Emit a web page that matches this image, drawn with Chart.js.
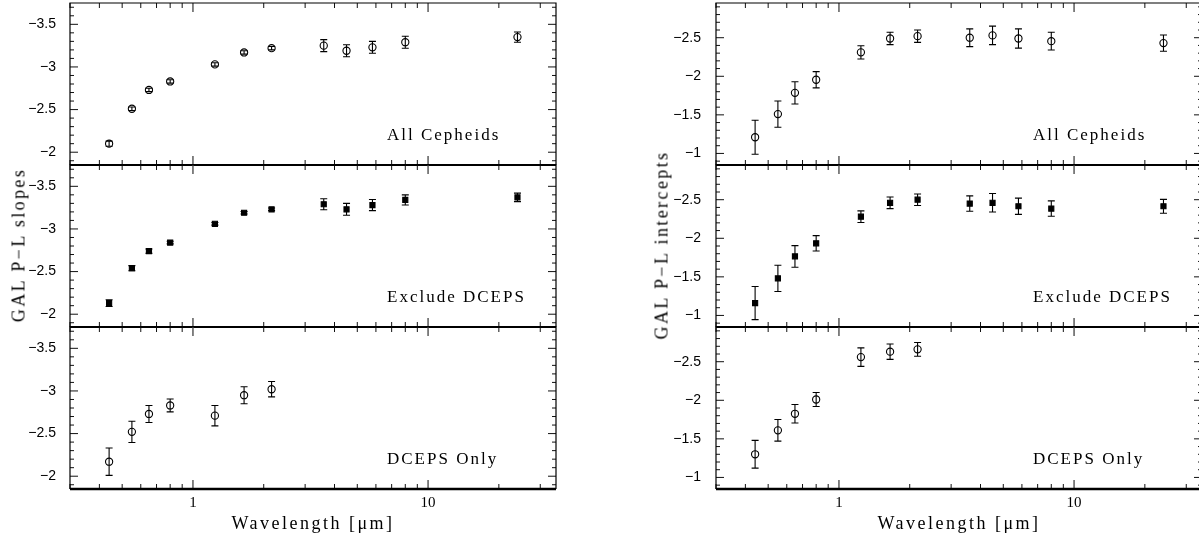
<!DOCTYPE html>
<html>
<head>
<meta charset="utf-8">
<script src="https://cdn.jsdelivr.net/npm/chart.js@4.4.1/dist/chart.umd.min.js"></script>
<style>
  body { margin: 0; background: #fff; overflow: hidden; }
  #wrap { position: relative; width: 1199px; height: 539px; overflow: hidden; }
  canvas { position: absolute; }
  .ytitle {
    position: absolute; font: 18px "Liberation Serif", serif; letter-spacing: 2.4px;
    white-space: nowrap; transform: translate(-50%, -50%) rotate(-90deg); color: #000;
  }
</style>
</head>
<body>
<div id="wrap">
  <canvas id="s1"></canvas><canvas id="s2"></canvas><canvas id="s3"></canvas>
  <canvas id="i1"></canvas><canvas id="i2"></canvas><canvas id="i3"></canvas>
  <div class="ytitle" style="left:19px;top:245px">GAL P−L slopes</div>
  <div class="ytitle" style="left:662px;top:245px">GAL P−L intercepts</div>
</div>
<script>
// wavelengths in micron (B V R I J H K, IRAC 3.6 4.5 5.8 8.0, MIPS 24)
const wavelengths = [0.44, 0.55, 0.65, 0.80, 1.24, 1.65, 2.16, 3.6, 4.5, 5.8, 8.0, 24];

const slopeAll      = [-2.10, -2.51, -2.73, -2.83, -3.03, -3.17, -3.22, -3.25, -3.19, -3.23, -3.29, -3.35];
const slopeAllErr   = [0.03, 0.02, 0.02, 0.02, 0.02, 0.02, 0.02, 0.07, 0.07, 0.07, 0.07, 0.06];
const slopeExcl     = [-2.13, -2.54, -2.74, -2.84, -3.06, -3.19, -3.23, -3.29, -3.23, -3.28, -3.34, -3.37];
const slopeExclErr  = [0.04, 0.03, 0.025, 0.015, 0.015, 0.015, 0.015, 0.065, 0.07, 0.065, 0.06, 0.05];
const slopeDceps    = [-2.17, -2.52, -2.73, -2.83, -2.71, -2.95, -3.02];
const slopeDcepsErr = [0.16, 0.125, 0.10, 0.075, 0.12, 0.10, 0.09];

const interceptAll      = [-1.21, -1.51, -1.785, -1.955, -2.31, -2.49, -2.52, -2.50, -2.53, -2.49, -2.455, -2.43];
const interceptAllErr   = [0.22, 0.17, 0.145, 0.105, 0.085, 0.08, 0.08, 0.115, 0.12, 0.125, 0.115, 0.105];
const interceptExcl     = [-1.16, -1.48, -1.765, -1.935, -2.28, -2.46, -2.50, -2.45, -2.46, -2.415, -2.385, -2.415];
const interceptExclErr  = [0.215, 0.17, 0.14, 0.10, 0.075, 0.075, 0.075, 0.10, 0.12, 0.105, 0.10, 0.09];
const interceptDceps    = [-1.30, -1.61, -1.825, -2.01, -2.56, -2.63, -2.66];
const interceptDcepsErr = [0.18, 0.14, 0.12, 0.09, 0.12, 0.10, 0.09];

const slopeTicks = [-3.5, -3, -2.5, -2];
const interceptTicks = [-2.5, -2, -1.5, -1];
const xTickLabels = [1, 10];
const panelLabels = ["All Cepheids", "Exclude DCEPS", "DCEPS Only"];
const xTitle = "Wavelength [μm]";

const SERIF = '"Liberation Serif", "Times New Roman", serif';
const SANS = '"Liberation Sans", Arial, sans-serif';

// draws frame, inward ticks on all 4 sides, error bars and the panel label
function panelDeco(cfg) {
  return {
    id: "panelDeco",
    beforeDatasetsDraw(chart) {
      const { ctx, chartArea: a, scales: { x, y } } = chart;
      ctx.save();
      ctx.beginPath();
      ctx.rect(a.left, a.top, a.right - a.left, a.bottom - a.top);
      ctx.clip();
      ctx.strokeStyle = "#000";
      ctx.lineWidth = 1.1;
      cfg.values.forEach((v, i) => {
        const px = x.getPixelForValue(wavelengths[i]);
        const y1 = y.getPixelForValue(v - cfg.errors[i]);
        const y2 = y.getPixelForValue(v + cfg.errors[i]);
        ctx.beginPath();
        ctx.moveTo(px, y1); ctx.lineTo(px, y2);
        ctx.moveTo(px - 3.5, y1); ctx.lineTo(px + 3.5, y1);
        ctx.moveTo(px - 3.5, y2); ctx.lineTo(px + 3.5, y2);
        ctx.stroke();
      });
      ctx.restore();
    },
    afterDraw(chart) {
      const { ctx, chartArea: a, scales: { x, y } } = chart;
      ctx.save();
      // x ticks (top and bottom, inward)
      for (let d = 0.1; d <= 10; d *= 10) {
        for (let k = 1; k <= 9; k++) {
          const v = d * k;
          if (v < x.min || v > x.max) continue;
          const px = x.getPixelForValue(v);
          const major = k === 1;
          const len = major ? 9 : 5;
          ctx.strokeStyle = major ? "#666" : "#111";
          ctx.lineWidth = major ? 1.6 : 1;
          ctx.beginPath();
          ctx.moveTo(px, a.top); ctx.lineTo(px, a.top + len);
          ctx.moveTo(px, a.bottom); ctx.lineTo(px, a.bottom - len);
          ctx.stroke();
        }
      }
      // y ticks (left and right, inward)
      ctx.strokeStyle = "#111";
      ctx.lineWidth = 1;
      const lo = Math.ceil(y.min * 10), hi = Math.floor(y.max * 10);
      for (let t = lo; t <= hi; t++) {
        const py = y.getPixelForValue(t / 10);
        const len = t % 5 === 0 ? 8 : 4;
        ctx.beginPath();
        ctx.moveTo(a.left, py); ctx.lineTo(a.left + len, py);
        ctx.moveTo(a.right, py); ctx.lineTo(a.right - len, py);
        ctx.stroke();
      }
      // frame
      ctx.strokeStyle = "#000";
      ctx.lineWidth = 1.2;
      ctx.beginPath();
      ctx.moveTo(a.left, a.bottom); ctx.lineTo(a.left, a.top); ctx.lineTo(a.right, a.top); ctx.lineTo(a.right, a.bottom);
      ctx.stroke();
      ctx.lineWidth = cfg.bottom ? 2.6 : 2;
      ctx.beginPath();
      ctx.moveTo(a.left, a.bottom); ctx.lineTo(a.right, a.bottom);
      ctx.stroke();
      // labels
      ctx.fillStyle = "#000";
      ctx.letterSpacing = "2px";
      ctx.font = "17px " + SERIF;
      ctx.textAlign = "left";
      ctx.textBaseline = "middle";
      ctx.fillText(cfg.label, a.left + 317, a.bottom - 29);
      if (cfg.bottom) {
        ctx.letterSpacing = "0px";
        ctx.font = "15px " + SERIF;
        ctx.textAlign = "center";
        xTickLabels.forEach(v => ctx.fillText(String(v), x.getPixelForValue(v), a.bottom + 14));
        ctx.letterSpacing = "2.5px";
        ctx.font = "18px " + SERIF;
        ctx.fillText(xTitle, (a.left + a.right) / 2, a.bottom + 35);
      }
      ctx.restore();
    }
  };
}

function makePanel(id, o) {
  const el = document.getElementById(id);
  el.width = o.w; el.height = o.h;
  el.style.left = o.left + "px"; el.style.top = o.top + "px";
  el.style.width = o.w + "px"; el.style.height = o.h + "px";
  const filled = o.marker === "square";
  new Chart(el, {
    type: "scatter",
    data: {
      datasets: [{
        data: o.values.map((v, i) => ({ x: wavelengths[i], y: v })),
        pointStyle: filled ? "rect" : "circle",
        pointRadius: 3.6,
        borderWidth: 1.1,
        borderColor: "#000",
        backgroundColor: filled ? "#000" : "rgba(0,0,0,0)"
      }]
    },
    options: {
      responsive: false,
      animation: false,
      events: [],
      layout: { autoPadding: false, padding: { top: 5, bottom: o.bottom ? 50 : 5, right: o.padRight, left: 0 } },
      plugins: { legend: { display: false }, tooltip: { enabled: false } },
      scales: {
        x: { type: "logarithmic", min: 0.316, max: 35, display: false },
        y: {
          min: o.ymin, max: o.ymax, reverse: true,
          grid: { display: false }, border: { display: false },
          afterBuildTicks: s => { s.ticks = o.ticks.map(v => ({ value: v })); },
          afterFit: s => { s.width = o.axisW; s.paddingTop = 0; s.paddingBottom = 0; },
          ticks: {
            autoSkip: false, padding: o.tickPad, color: "#000",
            font: { family: SANS, size: 14 },
            callback: v => String(v).replace("-", "\u2212")
          }
        }
      }
    },
    plugins: [panelDeco({ values: o.values, errors: o.errors, label: o.label, bottom: o.bottom })]
  });
}

const rows = [
  { top: -2, h: 172, bottom: false },
  { top: 160, h: 172, bottom: false },
  { top: 322, h: 217, bottom: true }
];
const slopeSets = [[slopeAll, slopeAllErr, "circle"], [slopeExcl, slopeExclErr, "square"], [slopeDceps, slopeDcepsErr, "circle"]];
const interceptSets = [[interceptAll, interceptAllErr, "circle"], [interceptExcl, interceptExclErr, "square"], [interceptDceps, interceptDcepsErr, "circle"]];

rows.forEach((r, k) => {
  makePanel("s" + (k + 1), {
    left: 0, w: 600, axisW: 70, padRight: 44, tickPad: 6, top: r.top, h: r.h, bottom: r.bottom,
    ymin: -3.75, ymax: -1.85, ticks: slopeTicks,
    values: slopeSets[k][0], errors: slopeSets[k][1], marker: slopeSets[k][2], label: panelLabels[k]
  });
  makePanel("i" + (k + 1), {
    left: 600, w: 620, axisW: 116, padRight: 18, tickPad: 7, top: r.top, h: r.h, bottom: r.bottom,
    ymin: -2.95, ymax: -0.85, ticks: interceptTicks,
    values: interceptSets[k][0], errors: interceptSets[k][1], marker: interceptSets[k][2], label: panelLabels[k]
  });
});
</script>
</body>
</html>
